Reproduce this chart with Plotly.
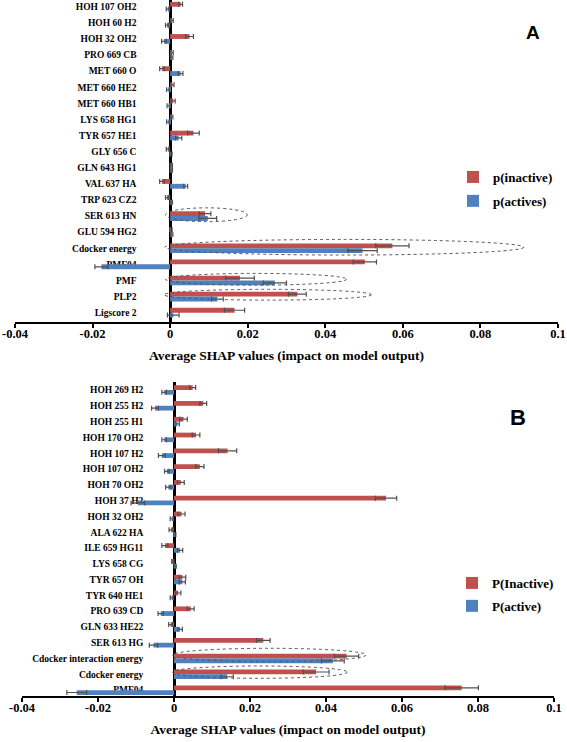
import plotly.graph_objects as go

# ---------------- Panel A data ----------------
cat_a = ["HOH 107 OH2", "HOH 60 H2", "HOH 32 OH2", "PRO 669 CB", "MET 660 O",
         "MET 660 HE2", "MET 660 HB1", "LYS 658 HG1", "TYR 657 HE1", "GLY 656 C",
         "GLN 643 HG1", "VAL 637 HA", "TRP 623 CZ2", "SER 613 HN", "GLU 594 HG2",
         "Cdocker energy", "PMF04", "PMF", "PLP2", "Ligscore 2"]
inact_a = [0.0027, 0.0005, 0.0050, 0.0005, -0.0021, 0.0006, 0.0008, 0.0004, 0.0060, -0.0006,
           0.0003, -0.0021, -0.0008, 0.0090, 0.0002, 0.0573, 0.0502, 0.0180, 0.0328, 0.0166]
inact_a_err = [0.0005, 0.0003, 0.0010, 0.0003, 0.0006, 0.0004, 0.0005, 0.0003, 0.0015, 0.0004,
               0.0003, 0.0006, 0.0004, 0.0015, 0.0003, 0.0043, 0.0030, 0.0037, 0.0023, 0.0026]
act_a = [-0.0006, -0.0008, -0.0016, 0.0004, 0.0027, -0.0005, -0.0004, -0.0005, 0.0022, 0.0002,
         0.0003, 0.0040, 0.0003, 0.0097, 0.0004, 0.0496, -0.0177, 0.0270, 0.0122, 0.0008]
act_a_err = [0.0004, 0.0004, 0.0006, 0.0003, 0.0006, 0.0004, 0.0004, 0.0004, 0.0008, 0.0003,
             0.0003, 0.0005, 0.0003, 0.0023, 0.0003, 0.0038, 0.0017, 0.0030, 0.0015, 0.0015]
names_a = ["p(inactive)", "p(actives)"]

# ---------------- Panel B data ----------------
cat_b = ["HOH 269 H2", "HOH 255 H2", "HOH 255 H1", "HOH 170 OH2", "HOH 107 H2",
         "HOH 107 OH2", "HOH 70 OH2", "HOH 37 H2", "HOH 32 OH2", "ALA 622 HA",
         "ILE 659 HG11", "LYS 658 CG", "TYR 657 OH", "TYR 640 HE1", "PRO 639 CD",
         "GLN 633 HE22", "SER 613 HG", "Cdocker interaction energy", "Cdocker energy", "PMF04"]
inact_b = [0.0049, 0.0077, 0.0025, 0.0058, 0.0141, 0.0068, 0.0018, 0.0558, 0.0020, -0.0008,
           -0.0024, -0.0003, 0.0022, 0.0011, 0.0044, -0.0009, 0.0235, 0.0454, 0.0374, 0.0757]
inact_b_err = [0.0008, 0.0009, 0.0010, 0.0010, 0.0024, 0.0011, 0.0009, 0.0028, 0.0009, 0.0005,
               0.0008, 0.0003, 0.0009, 0.0007, 0.0009, 0.0005, 0.0018, 0.0032, 0.0034, 0.0044]
act_b = [-0.0026, -0.0050, 0.0009, -0.0026, -0.0032, -0.0019, -0.0015, -0.0095, -0.0006, 0.0002,
         0.0016, 0.0003, 0.0022, -0.0006, -0.0035, 0.0016, -0.0054, 0.0418, 0.0140, -0.0256]
act_b_err = [0.0006, 0.0009, 0.0005, 0.0006, 0.0009, 0.0006, 0.0007, 0.0018, 0.0004, 0.0003,
             0.0007, 0.0003, 0.0008, 0.0004, 0.0007, 0.0006, 0.0011, 0.0030, 0.0016, 0.0026]
names_b = ["P(Inactive)", "P(active)"]

# ---------------- axis ticks ----------------
tick_vals = [-0.04, -0.02, 0, 0.02, 0.04, 0.06, 0.08, 0.1]
tick_text = ["-0.04", "-0.02", "0", "0.02", "0.04", "0.06", "0.08", "0.1"]
x_title = "Average SHAP values (impact on model output)"

# highlight ellipses: (x0, x1, y0, y1) in data units (category index)
ellipses_a = [(-0.0012, 0.0199, 12.49, 13.35), (-0.0014, 0.0912, 14.45, 15.42),
              (-0.0012, 0.0455, 16.56, 17.29), (-0.0016, 0.0519, 17.55, 18.22)]
ellipses_b = [(-0.0004, 0.0505, 16.35, 17.20), (-0.0004, 0.0456, 17.47, 18.25)]

RED = "#C0504D"
BLUE = "#4F81BD"
ERR = "#505050"
SERIF = "Liberation Serif"

fig = go.Figure()


def add_pair(cats, v1, e1, v2, e2, names, xa, ya, leg):
    for vals, errs, name, col in [(v1, e1, names[0], RED), (v2, e2, names[1], BLUE)]:
        fig.add_trace(go.Bar(
            y=cats, x=vals, orientation="h", name=name,
            marker=dict(color=col, line=dict(width=0)),
            error_x=dict(type="data", array=errs, symmetric=True, color=ERR,
                         thickness=1.2, width=2.5),
            xaxis=xa, yaxis=ya, legend=leg, legendgroup=leg + name,
        ))


add_pair(cat_a, inact_a, inact_a_err, act_a, act_a_err, names_a, "x", "y", "legend")
add_pair(cat_b, inact_b, inact_b_err, act_b, act_b_err, names_b, "x2", "y2", "legend2")

W, H = 567, 742
dom_a_x = [15 / W, 558 / W]
dom_b_x = [22 / W, 554 / W]
dom_a_y = [1 - 321.7 / H, 1.0]
dom_b_y = [1 - 696 / H, 1 - 382 / H]


def zero_pos(dom):
    return dom[0] + (dom[1] - dom[0]) * (0.04 / 0.14)


xaxis_common = dict(
    range=[-0.04, 0.1], tickvals=tick_vals, ticktext=tick_text, automargin=False,
    showline=True, linecolor="black", linewidth=2, ticks="outside", ticklen=4,
    tickwidth=2, tickcolor="black", showgrid=False, zeroline=False,
    ticklabelstandoff=-5,
    tickfont=dict(family=SERIF, size=12.5, color="black", weight="bold"),
    title=dict(text=x_title, font=dict(family=SERIF, size=13.5, color="black", weight="bold"),
               standoff=11),
)
yaxis_common = dict(
    type="category", showline=True, linecolor="black", linewidth=2.5, ticks="",
    showgrid=False, zeroline=False, anchor="free", layer="below traces",
    automargin=False,
    tickfont=dict(family=SERIF, size=9.5, color="black", weight="bold"),
)

legend_font = dict(family=SERIF, size=13, color="black", weight="bold")

fig.update_layout(
    width=W, height=H, margin=dict(l=0, r=0, t=0, b=0, autoexpand=False),
    paper_bgcolor="white", plot_bgcolor="white",
    barmode="group", bargap=0.4, bargroupgap=0,
    showlegend=True,
    xaxis=dict(domain=dom_a_x, anchor="y", **xaxis_common),
    yaxis=dict(domain=dom_a_y, range=[19.56, -0.416], categoryarray=cat_a,
               categoryorder="array", position=zero_pos(dom_a_x),
               ticklabelstandoff=31, **yaxis_common),
    xaxis2=dict(domain=dom_b_x, anchor="y2", **xaxis_common),
    yaxis2=dict(domain=dom_b_y, range=[19.37, -0.506], categoryarray=cat_b,
                categoryorder="array", position=zero_pos(dom_b_x),
                ticklabelstandoff=28, **yaxis_common),
    legend=dict(x=453 / W, y=1 - 162 / H, xanchor="left", yanchor="top",
                font=legend_font, bgcolor="rgba(0,0,0,0)", traceorder="grouped",
                tracegroupgap=4),
    legend2=dict(x=452 / W, y=1 - 568 / H, xanchor="left", yanchor="top",
                 font=legend_font, bgcolor="rgba(0,0,0,0)", traceorder="grouped",
                 tracegroupgap=3),
    annotations=[
        dict(text="A", x=533 / W, y=1 - 33 / H, xref="paper", yref="paper",
             xanchor="center", yanchor="middle",
             showarrow=False, font=dict(family="Liberation Sans", size=19, color="black",
                                        weight="bold")),
        dict(text="B", x=518 / W, y=1 - 417 / H, xref="paper", yref="paper",
             xanchor="center", yanchor="middle",
             showarrow=False, font=dict(family="Liberation Sans", size=22, color="black",
                                        weight="bold")),
    ],
)

shapes = []
for (x0, x1, y0, y1) in ellipses_a:
    shapes.append(dict(type="circle", xref="x", yref="y", x0=x0, x1=x1, y0=y0, y1=y1,
                       line=dict(color="#555555", width=1, dash="dot")))
for (x0, x1, y0, y1) in ellipses_b:
    shapes.append(dict(type="circle", xref="x2", yref="y2", x0=x0, x1=x1, y0=y0, y1=y1,
                       line=dict(color="#555555", width=1, dash="dot")))
fig.update_layout(shapes=shapes)

fig.write_html("out.html", config={"displayModeBar": False},
               post_script="document.body.style.margin='0';document.body.style.overflow='hidden';")
